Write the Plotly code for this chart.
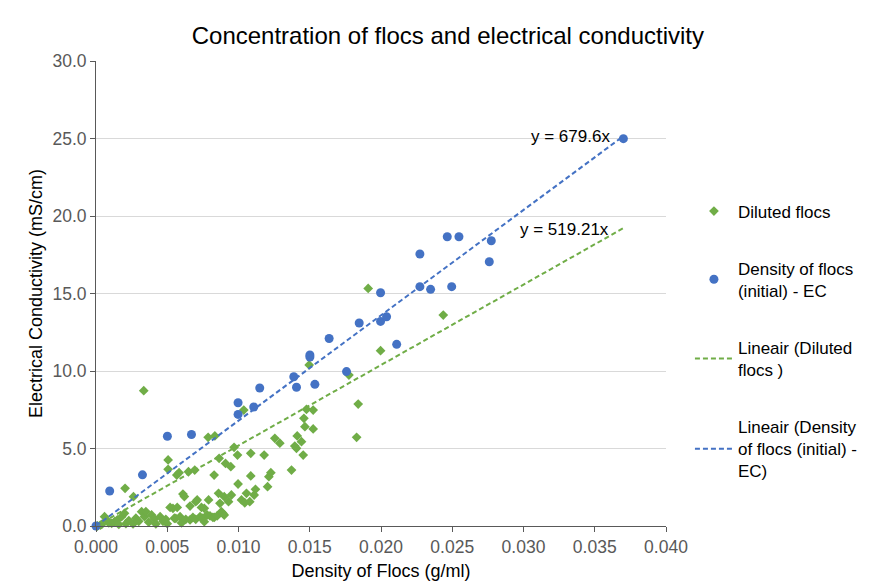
import plotly.graph_objects as go

# Diluted flocs (green diamonds)
diluted_x = [0.0001, 0.0003, 0.0004, 0.0006, 0.00075, 0.0009, 0.0011, 0.0013, 0.0015, 0.0016,
             0.0018, 0.0020, 0.0021, 0.0023, 0.0026, 0.0028, 0.0030, 0.0032, 0.0034, 0.0035,
             0.0037, 0.0039, 0.0041, 0.0042, 0.0045, 0.0047, 0.0049, 0.0050, 0.0052, 0.0054,
             0.0055, 0.0056, 0.0057, 0.0059, 0.0060, 0.0061, 0.0062, 0.0063, 0.0066, 0.0066,
             0.0068, 0.0070, 0.0070, 0.0071, 0.0073, 0.0074, 0.0075, 0.0076, 0.0076, 0.0078,
             0.0079, 0.0080, 0.0082, 0.0083, 0.0085, 0.0086, 0.0087, 0.0088, 0.0089, 0.0090,
             0.0090, 0.0093, 0.0095,
             0.00204, 0.00263, 0.00335, 0.00506, 0.00506, 0.00567, 0.00583, 0.00649, 0.00693,
             0.00787, 0.00834, 0.00864, 0.00829, 0.00909, 0.00946, 0.00969, 0.00993, 0.00997,
             0.01021, 0.01044, 0.01037, 0.01056, 0.01079, 0.01086, 0.01086, 0.0111, 0.01119,
             0.0118, 0.01204, 0.01213, 0.01227, 0.01255, 0.0129, 0.01372,
             0.01395, 0.01407, 0.01412, 0.01442, 0.01454, 0.01459, 0.01466, 0.01477, 0.01524,
             0.01524, 0.01496, 0.01775, 0.0184, 0.01829, 0.0191, 0.01997, 0.02437]
diluted_y = [0.0, 0.05, 0.1, 0.6, 0.39, 0.2, 0.17, 0.28, 0.4, 0.1,
             0.6, 0.82, 0.15, 0.35, 0.13, 0.5, 0.3, 0.92, 0.6, 0.93,
             0.25, 0.71, 0.45, 0.13, 0.6, 0.3, 0.43, 0.15, 1.2, 1.14,
             0.5, 0.49, 1.2, 0.6, 0.2, 2.06, 1.9, 0.43, 0.39, 1.29,
             0.56, 0.43, 1.57, 1.68, 0.6, 1.2, 0.5, 0.28, 1.14, 0.71,
             1.68, 0.65, 0.56, 0.56, 0.65, 2.11, 1.46, 0.92, 0.82, 0.71,
             1.89, 1.57, 2.0,
             2.43, 1.89, 8.73, 4.26, 3.66, 3.29, 3.44, 3.5, 3.61,
             5.72, 5.81, 4.37, 3.29, 4.04, 3.83, 5.08, 4.58, 2.71,
             1.68, 1.5, 7.48, 2.11, 1.57, 4.69, 3.23, 2.0, 2.37,
             4.58, 2.54, 3.18, 3.44, 5.66, 5.34, 3.61,
             5.16, 5.01, 5.81, 5.44, 4.58, 6.95, 6.41, 7.53, 7.48,
             6.26, 10.39, 9.74, 7.87, 5.72, 15.33, 11.31, 13.61]

# Density of flocs (initial) - EC (blue circles)
initial_x = [0.0, 0.00096, 0.00326, 0.00501, 0.0067, 0.00997, 0.00997, 0.01107, 0.01149,
             0.01388, 0.01407, 0.01501, 0.01501, 0.01536, 0.01636, 0.01758, 0.01847,
             0.01997, 0.01997, 0.02039, 0.0211, 0.02273, 0.02273, 0.02348, 0.02465,
             0.02496, 0.02547, 0.0276, 0.02774, 0.03701]
initial_y = [0.0, 2.26, 3.3, 5.79, 5.9, 7.95, 7.2, 7.68, 8.9,
             9.63, 8.95, 11.03, 10.9, 9.14, 12.1, 9.96, 13.1,
             15.05, 13.2, 13.5, 11.72, 15.44, 17.55, 15.27, 18.66,
             15.44, 18.66, 17.05, 18.4, 24.99]

# Trendline slopes (from equation labels), through origin
slope_diluted = 519.21
slope_initial = 679.6
trend_x = [0.0, 0.037]

x_ticks = [0.000, 0.005, 0.010, 0.015, 0.020, 0.025, 0.030, 0.035, 0.040]
y_ticks = [0.0, 5.0, 10.0, 15.0, 20.0, 25.0, 30.0]

GREEN = "#70AD47"
BLUE = "#4472C4"
FONT = "Liberation Sans, Arial, sans-serif"
DASH = "5px,3px"

fig = go.Figure()
fig.add_trace(go.Scatter(
    x=diluted_x, y=diluted_y, mode="markers", name="Diluted flocs",
    marker=dict(symbol="diamond", size=7.5, color=GREEN),
    cliponaxis=False, legendgroup="a"))
fig.add_trace(go.Scatter(
    x=initial_x, y=initial_y, mode="markers", name="Density of flocs<br>(initial) - EC",
    marker=dict(symbol="circle", size=9, color=BLUE),
    cliponaxis=False, legendgroup="b"))
fig.add_trace(go.Scatter(
    x=trend_x, y=[slope_diluted * v for v in trend_x], mode="lines",
    name="Lineair (Diluted<br>flocs )",
    line=dict(color=GREEN, width=2, dash=DASH), legendgroup="c"))
fig.add_trace(go.Scatter(
    x=trend_x, y=[slope_initial * v for v in trend_x], mode="lines",
    name="Lineair (Density<br>of flocs (initial) -<br>EC)",
    line=dict(color=BLUE, width=2, dash=DASH), legendgroup="d"))

fig.add_annotation(x=0.03624, y=25.16, text=f"y = {slope_initial}x",
                   showarrow=False, xanchor="right", yanchor="middle",
                   font=dict(size=17, color="#000000"))
fig.add_annotation(x=0.03617, y=19.16, text=f"y = {slope_diluted}x",
                   showarrow=False, xanchor="right", yanchor="middle",
                   font=dict(size=17, color="#000000"))

axis_common = dict(showline=True, linecolor="#595959", linewidth=1,
                   ticks="outside", ticklen=5, tickcolor="#595959",
                   tickfont=dict(size=17.5, color="#595959"), zeroline=False,
                   automargin=False)

fig.update_layout(
    width=871, height=585,
    margin=dict(l=88, r=213, t=53, b=67),
    paper_bgcolor="white", plot_bgcolor="white",
    font=dict(family=FONT, color="#595959"),
    title=dict(text="Concentration of flocs and electrical conductivity",
               x=0.505, xanchor="center", y=0.952, yanchor="middle",
               font=dict(size=24, color="#000000")),
    xaxis=dict(range=[0, 0.040], tickvals=x_ticks, tickformat=".3f", showgrid=False,
               title=dict(text="Density of Flocs (g/ml)", font=dict(size=18, color="#000000"),
                          standoff=8),
               **axis_common),
    yaxis=dict(range=[0, 30], tickvals=y_ticks, tickformat=".1f", showgrid=True,
               gridcolor="#D9D9D9", gridwidth=1,
               title=dict(text="Electrical Conductivity (mS/cm)", font=dict(size=18, color="#000000"),
                          standoff=5),
               **axis_common),
    legend=dict(x=1.042, xanchor="left", y=0.715, yanchor="top",
                font=dict(size=17, color="#000000"), tracegroupgap=32,
                traceorder="grouped", itemwidth=38),
    showlegend=True,
)

fig.write_html("out.html")
